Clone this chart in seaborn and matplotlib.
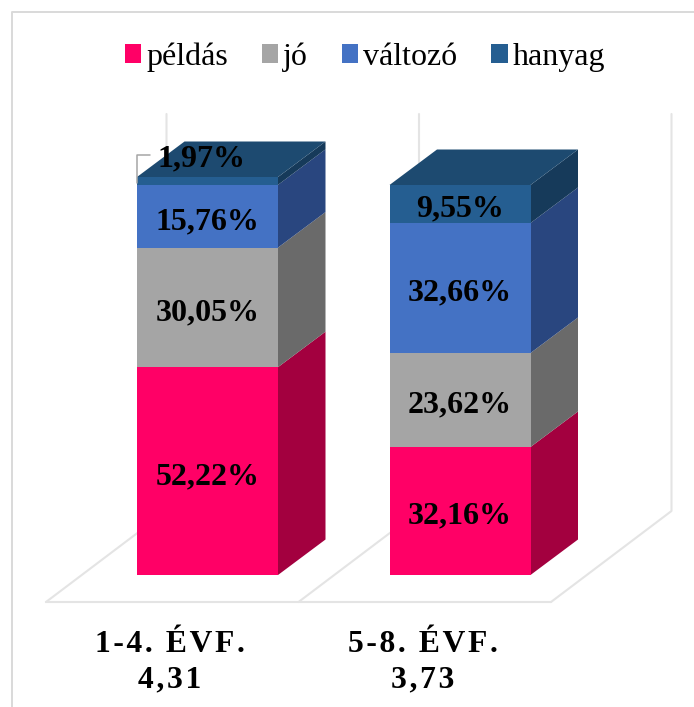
import matplotlib
matplotlib.use("Agg")
import matplotlib.pyplot as plt
import pandas as pd
import seaborn as sns
from matplotlib.lines import Line2D
from matplotlib.patches import Polygon

# --- data -----------------------------------------------------------------
groups = ["1-4. ÉVF.", "5-8. ÉVF."]
averages = ["4,31", "3,73"]
series = ["példás", "jó", "változó", "hanyag"]
peldas = [52.22, 32.16]
jo = [30.05, 23.62]
valtozo = [15.76, 32.66]
hanyag = [1.97, 9.55]

# --- style ----------------------------------------------------------------
W, H = 694, 707
FRONT = ["#FF0066", "#A5A5A5", "#4472C4", "#255E91"]
SIDE = ["#A3003F", "#6A6A6A", "#29467F", "#163A5A"]
TOP = "#1D4A70"
WALL = "#E4E4E4"
FRAME = "#D9D9D9"
PX_PER_CAT = 252.5
PX_PER_PCT = 3.98
BAR_W = 141 / PX_PER_CAT
DX, DY = 47.5 / PX_PER_CAT, 35.5 / PX_PER_PCT
FLOOR_DX, FLOOR_DY = 120.5 / PX_PER_CAT, 91 / PX_PER_PCT
SPACE = "\u200a"

plt.rcParams["font.family"] = ["Liberation Serif", "DejaVu Serif"]
sns.set_style("white")
plt.rcParams["font.family"] = ["Liberation Serif", "DejaVu Serif"]

df = pd.DataFrame({"group": groups, series[0]: peldas, series[1]: jo,
                   series[2]: valtozo, series[3]: hanyag})

fig = plt.figure(figsize=(W / 100, H / 100), dpi=100, facecolor="white")
ax = fig.add_axes([46 / W, (H - 602) / H, 625 / W, 488 / H])

# chart frame: only its top and left edges fall inside the picture
fig.add_artist(Line2D([12 / W, 12 / W, 1], [0, 1 - 11.7 / H, 1 - 11.7 / H],
                      color=FRAME, lw=1.4, transform=fig.transFigure))

bottoms = [0.0, 0.0]
for s, front, side in zip(series, FRONT, SIDE):
    sns.barplot(data=df, x="group", y=s, color=front, saturation=1, width=BAR_W,
                bottom=bottoms, errorbar=None, linewidth=0, label=s, ax=ax, zorder=3)
    for i, (b, v) in enumerate(zip(bottoms, df[s])):
        xr = i + BAR_W / 2
        ax.add_patch(Polygon([(xr, b), (xr, b + v), (xr + DX, b + v + DY), (xr + DX, b + DY)],
                             closed=True, fc=side, ec="none", zorder=2.5))
        txt_x, txt_y = i, b + v / 2 - 1.35
        if v < 3:  # small segment: label lifted above with a leader line
            txt_x, txt_y = i - 0.022, b + v + 4.5
        ax.text(txt_x, txt_y, f"{v:.2f}".replace(".", ",") + "%", ha="center", va="center",
                fontsize=23, fontweight="bold", color="black", zorder=6)
    bottoms = [b + v for b, v in zip(bottoms, df[s])]

for i, t in enumerate(bottoms):
    xl, xr = i - BAR_W / 2, i + BAR_W / 2
    ax.add_patch(Polygon([(xl, t), (xr, t), (xr + DX, t + DY), (xl + DX, t + DY)],
                         closed=True, fc=TOP, ec="none", zorder=2.6))

x0 = (46 - 207.5) / PX_PER_CAT
x1 = x0 + 625 / PX_PER_CAT
y0 = (575 - 602) / PX_PER_PCT
y1 = y0 + 488 / PX_PER_PCT
ax.set_xlim(x0, x1)
ax.set_ylim(y0, y1)

# floor and back walls
ax.plot([x0, x0 + 2], [y0, y0], color=WALL, lw=1.5, clip_on=False, zorder=1)
for i in range(3):
    ax.plot([x0 + i, x0 + i + FLOOR_DX, x0 + i + FLOOR_DX], [y0, y0 + FLOOR_DY, y1],
            color=WALL, lw=1.5, clip_on=False, zorder=1)

# leader line of the small label
xl = -BAR_W / 2
ax.plot([xl, xl, xl + 13 / PX_PER_CAT], [bottoms[0] - 1.5, bottoms[0] + 5.5, bottoms[0] + 5.5],
        color="#A6A6A6", lw=1.1, zorder=5)

ax.set_xticks([i - 37.5 / PX_PER_CAT for i in range(2)])
ax.set_xticklabels([SPACE.join(g) + "\n" + SPACE.join(a) for g, a in zip(groups, averages)],
                   fontsize=22.8, fontweight="bold", linespacing=1.3, color="black")
ax.tick_params(axis="x", length=0, pad=20)
ax.set_yticks([])
ax.set_xlabel("")
ax.set_ylabel("")
sns.despine(ax=ax, left=True, bottom=True, top=True, right=True)
ax.patch.set_alpha(0)

handles, labels = ax.get_legend_handles_labels()
if ax.get_legend() is not None:
    ax.get_legend().remove()
fig.legend(handles, labels, loc="center", bbox_to_anchor=(365 / W, 1 - 57 / H), ncol=4,
           frameon=False, fontsize=23, handlelength=0.52, handleheight=0.52,
           handletextpad=0.16, columnspacing=1.05, borderpad=0, labelcolor="black")

fig.savefig("out.png", dpi=100, facecolor="white")
